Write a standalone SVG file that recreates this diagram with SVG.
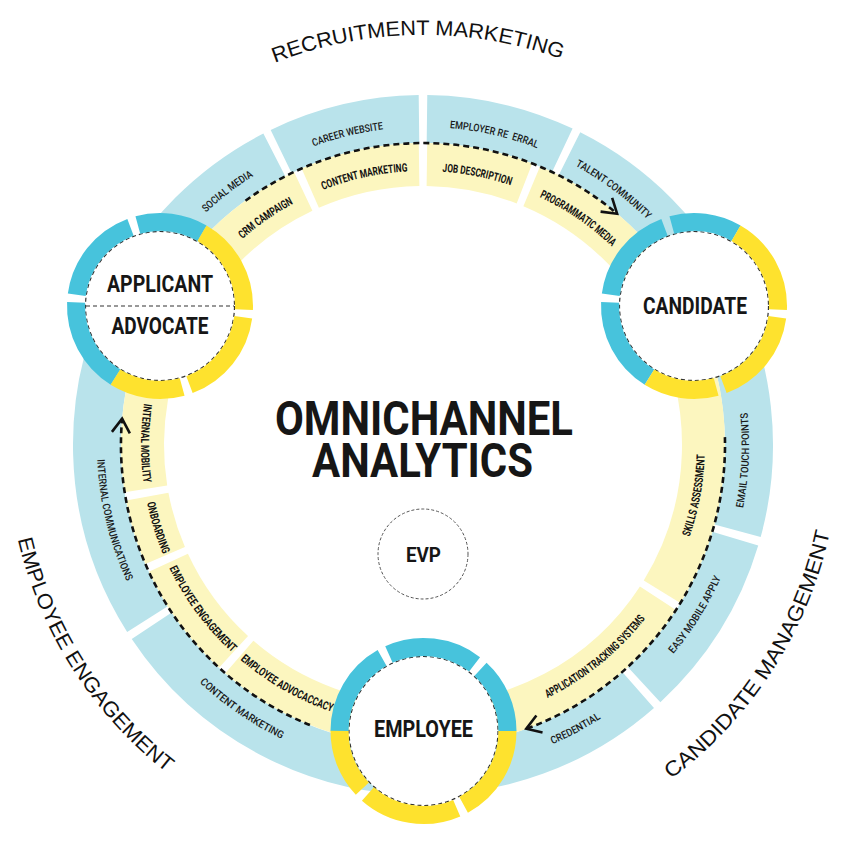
<svg xmlns="http://www.w3.org/2000/svg" width="843" height="845" viewBox="0 0 843 845">
<style>
.bb{fill:none;stroke:#B9E3EB;stroke-width:48}
.yb{fill:none;stroke:#FCF6BF;stroke-width:43}
.rb{fill:none;stroke:#47C3DC;stroke-width:18}
.ry{fill:none;stroke:#FEE22E;stroke-width:18}
.lb{font-family:Roboto,'Liberation Sans',sans-serif;font-weight:500;font-size:10.5px;fill:#1a1a1a}
.ly{font-family:Roboto,'Liberation Sans',sans-serif;font-weight:700;font-size:11.5px;fill:#111}
.outer{font-family:'Liberation Sans',Arial,sans-serif;font-size:21px;fill:#111}
.big{font-family:Roboto,'Liberation Sans',sans-serif;font-weight:700;fill:#161616;text-anchor:middle}
.flow{fill:none;stroke:#111;stroke-width:2.6;stroke-dasharray:6 4}
.core{fill:#fff;stroke:#333;stroke-width:1.2;stroke-dasharray:4 3}
</style>
<defs>
  <!-- guide circles centred on (423,445); cw = clockwise from bottom, ccw = counter-clockwise from top -->
  <path id="cw318" d="M423,763 A318,318 0 1 1 423,127 A318,318 0 1 1 423,763"/>
  <path id="cw274" d="M423,719 A274,274 0 1 1 423,171 A274,274 0 1 1 423,719"/>
  <path id="cw410" d="M423,855 A410,410 0 1 1 423,35 A410,410 0 1 1 423,855"/>
  <path id="ccw325" d="M423,119 A326,326 0 1 0 423,771 A326,326 0 1 0 423,119"/>
  <path id="ccw281" d="M423,163 A282,282 0 1 0 423,727 A282,282 0 1 0 423,163"/>
  <path id="ccw416" d="M423,29 A416,416 0 1 0 423,861 A416,416 0 1 0 423,29"/>
  <marker id="chev" viewBox="-17 -12 20 24" refX="0" refY="0" markerWidth="20" markerHeight="24" markerUnits="userSpaceOnUse" orient="auto">
    <path d="M-14,-9 L0,0 L-14,9" fill="none" stroke="#111" stroke-width="2.6" stroke-dasharray="none" stroke-linejoin="miter"/>
  </marker>
</defs>

<rect width="843" height="845" fill="#fff"/>

<!-- outer section titles -->
<g id="section-titles">
  <text class="outer" text-anchor="middle"><textPath href="#cw410" startOffset="1282.7" textLength="293" lengthAdjust="spacingAndGlyphs">RECRUITMENT MARKETING</textPath></text>
  <text class="outer" text-anchor="middle"><textPath href="#ccw416" startOffset="889.4" textLength="282" lengthAdjust="spacingAndGlyphs">EMPLOYEE ENGAGEMENT</textPath></text>
  <text class="outer" text-anchor="middle"><textPath href="#ccw416" startOffset="1722.2" textLength="300" lengthAdjust="spacingAndGlyphs">CANDIDATE MANAGEMENT</textPath></text>
</g>

<!-- outer (blue) channel ring -->
<g id="channel-ring" transform="translate(423 445)">
  <g id="social-media"><circle r="326" class="bb" stroke-dasharray="204 3000" transform="rotate(-153)"/></g>
  <g id="career-website"><circle r="326" class="bb" stroke-dasharray="142.8 3000" transform="rotate(-115.8)"/></g>
  <g id="employer-referral"><circle r="326" class="bb" stroke-dasharray="140 3000" transform="rotate(-89.3)"/></g>
  <g id="talent-community"><circle r="326" class="bb" stroke-dasharray="212 3000" transform="rotate(-63.3)"/></g>
  <g id="email-touch-points"><circle r="326" class="bb" stroke-dasharray="246 3000" transform="rotate(-28)"/></g>
  <g id="easy-mobile-apply"><circle r="326" class="bb" stroke-dasharray="174.1 3000" transform="rotate(16.7)"/></g>
  <g id="credential"><circle r="326" class="bb" stroke-dasharray="240.7 3000" transform="rotate(48.7)"/></g>
  <g id="content-marketing-blue"><circle r="326" class="bb" stroke-dasharray="326 3000" transform="rotate(89)"/></g>
  <g id="internal-communications"><circle r="326" class="bb" stroke-dasharray="348.8 3000" transform="rotate(147.7)"/></g>
</g>

<!-- inner (yellow) touch-point ring -->
<g id="touch-ring" transform="translate(423 445)">
  <g id="crm-campaign"><circle r="280.5" class="yb" stroke-dasharray="184.6 3000" transform="rotate(-153)"/></g>
  <g id="content-marketing"><circle r="280.5" class="yb" stroke-dasharray="112.1 3000" transform="rotate(-113.7)"/></g>
  <g id="job-description"><circle r="280.5" class="yb" stroke-dasharray="99.9 3000" transform="rotate(-89.2)"/></g>
  <g id="programmatic-media"><circle r="280.5" class="yb" stroke-dasharray="201.7 3000" transform="rotate(-67.2)"/></g>
  <g id="skills-assessment"><circle r="280.5" class="yb" stroke-dasharray="291.3 3000" transform="rotate(-28)"/></g>
  <g id="application-tracking"><circle r="280.5" class="yb" stroke-dasharray="283.5 3000" transform="rotate(33.1)"/></g>
  <g id="employee-advocacy"><circle r="280.5" class="yb" stroke-dasharray="205.1 3000" transform="rotate(89)"/></g>
  <g id="employee-engagement"><circle r="280.5" class="yb" stroke-dasharray="111.1 3000" transform="rotate(132.5)"/></g>
  <g id="onboarding"><circle r="280.5" class="yb" stroke-dasharray="61.7 3000" transform="rotate(156.8)"/></g>
  <g id="internal-mobility"><circle r="280.5" class="yb" stroke-dasharray="186 3000" transform="rotate(171)"/></g>
</g>

<!-- ring labels -->
<g id="ring-labels">
  <text class="lb" text-anchor="middle"><textPath href="#cw318" startOffset="790" textLength="60" lengthAdjust="spacingAndGlyphs">SOCIAL MEDIA</textPath></text>
  <text class="lb" text-anchor="middle"><textPath href="#cw318" startOffset="923" textLength="72" lengthAdjust="spacingAndGlyphs">CAREER WEBSITE</textPath></text>
  <text class="lb" text-anchor="middle"><textPath href="#cw318" startOffset="1070.6" textLength="90" lengthAdjust="spacingAndGlyphs">EMPLOYER RE&#160; ERRAL</textPath></text>
  <text class="lb" text-anchor="middle"><textPath href="#cw318" startOffset="1202.7" textLength="90" lengthAdjust="spacingAndGlyphs">TALENT COMMUNITY</textPath></text>
  <text class="ly" text-anchor="middle"><textPath href="#cw274" startOffset="694.4" textLength="62" lengthAdjust="spacingAndGlyphs">CRM CAMPAIGN</textPath></text>
  <text class="ly" text-anchor="middle"><textPath href="#cw274" startOffset="801.5" textLength="87" lengthAdjust="spacingAndGlyphs">CONTENT MARKETING</textPath></text>
  <text class="ly" text-anchor="middle"><textPath href="#cw274" startOffset="914.8" textLength="70" lengthAdjust="spacingAndGlyphs">JOB DESCRIPTION</textPath></text>
  <text class="ly" text-anchor="middle"><textPath href="#cw274" startOffset="1024.8" textLength="88" lengthAdjust="spacingAndGlyphs">PROGRAMMATIC MEDIA</textPath></text>

  <text class="lb" text-anchor="middle"><textPath href="#ccw325" startOffset="589.5" textLength="126" lengthAdjust="spacingAndGlyphs">INTERNAL COMMUNICATIONS</textPath></text>
  <text class="lb" text-anchor="middle"><textPath href="#ccw325" startOffset="827.9" textLength="100" lengthAdjust="spacingAndGlyphs">CONTENT MARKETING</textPath></text>
  <text class="lb" text-anchor="middle"><textPath href="#ccw325" startOffset="1184.6" textLength="55" lengthAdjust="spacingAndGlyphs">CREDENTIAL</textPath></text>
  <text class="lb" text-anchor="middle"><textPath href="#ccw325" startOffset="1354.2" textLength="90" lengthAdjust="spacingAndGlyphs">EASY MOBILE APPLY</textPath></text>
  <text class="lb" text-anchor="middle"><textPath href="#ccw325" startOffset="1520.3" textLength="96" lengthAdjust="spacingAndGlyphs">EMAIL TOUCH POINTS</textPath></text>

  <text class="ly" text-anchor="middle"><textPath href="#ccw281" startOffset="441" textLength="80" lengthAdjust="spacingAndGlyphs">INTERNAL MOBILITY</textPath></text>
  <text class="ly" text-anchor="middle"><textPath href="#ccw281" startOffset="528.1" textLength="54" lengthAdjust="spacingAndGlyphs">ONBOARDING</textPath></text>
  <text class="ly" text-anchor="middle"><textPath href="#ccw281" startOffset="623.1" textLength="106" lengthAdjust="spacingAndGlyphs">EMPLOYEE ENGAGEMENT</textPath></text>
  <text class="ly" text-anchor="middle"><textPath href="#ccw281" startOffset="739.7" textLength="106" lengthAdjust="spacingAndGlyphs">EMPLOYEE ADVOCACCACY</textPath></text>
  <text class="ly" text-anchor="middle"><textPath href="#ccw281" startOffset="1077.9" textLength="127" lengthAdjust="spacingAndGlyphs">APPLICATION TRACKING SYSTEMS</textPath></text>
  <text class="ly" text-anchor="middle"><textPath href="#ccw281" startOffset="1276.7" textLength="84" lengthAdjust="spacingAndGlyphs">SKILLS ASSESSMENT</textPath></text>
</g>

<!-- journey connectors -->
<g id="connectors">
  <path class="flow" d="M245.5,200.7 A302,302 0 0 1 617.1,213.7" marker-end="url(#chev)"/>
  <path class="flow" d="M724.9,437.1 A302,302 0 0 1 526.3,728.8" marker-end="url(#chev)"/>
  <path class="flow" d="M309.9,725 A302,302 0 0 1 122.1,418.7" marker-end="url(#chev)"/>
</g>

<!-- stage nodes -->
<g id="applicant-advocate" transform="translate(160 306)">
  <circle r="74.5" class="core"/>
  <circle r="84" class="rb" stroke-dasharray="88.4 600" transform="rotate(122)"/>
  <circle r="84" class="rb" stroke-dasharray="90.3 600" transform="rotate(187.7)"/>
  <circle r="84" class="rb" stroke-dasharray="66.4 600" transform="rotate(254.7)"/>
  <circle r="84" class="ry" stroke-dasharray="91.3 600" transform="rotate(-60)"/>
  <circle r="84" class="ry" stroke-dasharray="90.3 600" transform="rotate(7.7)"/>
  <circle r="84" class="ry" stroke-dasharray="69.3 600" transform="rotate(74.7)"/>
  <line x1="-74" y1="0" x2="74" y2="0" stroke="#333" stroke-width="1.2" stroke-dasharray="4 3"/>
  <text class="big" x="0" y="-14" font-size="24" textLength="106" lengthAdjust="spacingAndGlyphs">APPLICANT</text>
  <text class="big" x="0" y="28" font-size="24" textLength="97" lengthAdjust="spacingAndGlyphs">ADVOCATE</text>
</g>

<g id="candidate" transform="translate(694 306)">
  <circle r="74.5" class="core"/>
  <circle r="84" class="rb" stroke-dasharray="88.4 600" transform="rotate(122)"/>
  <circle r="84" class="rb" stroke-dasharray="90.3 600" transform="rotate(187.7)"/>
  <circle r="84" class="rb" stroke-dasharray="66.4 600" transform="rotate(254.7)"/>
  <circle r="84" class="ry" stroke-dasharray="91.3 600" transform="rotate(-60)"/>
  <circle r="84" class="ry" stroke-dasharray="90.3 600" transform="rotate(7.7)"/>
  <circle r="84" class="ry" stroke-dasharray="69.3 600" transform="rotate(74.7)"/>
  <text class="big" x="1" y="8" font-size="24" textLength="104" lengthAdjust="spacingAndGlyphs">CANDIDATE</text>
</g>

<g id="employee" transform="translate(423.5 731)">
  <circle r="74.5" class="core"/>
  <circle r="84" class="rb" stroke-dasharray="88.4 600" transform="rotate(180)"/>
  <circle r="84" class="rb" stroke-dasharray="90.3 600" transform="rotate(245.7)"/>
  <circle r="84" class="rb" stroke-dasharray="69.3 600" transform="rotate(-47.3)"/>
  <circle r="84" class="ry" stroke-dasharray="89.9 600" transform="rotate(0)"/>
  <circle r="84" class="ry" stroke-dasharray="94.7 600" transform="rotate(66.7)"/>
  <circle r="84" class="ry" stroke-dasharray="63.5 600" transform="rotate(136.7)"/>
  <text class="big" x="0" y="6" font-size="24" textLength="99" lengthAdjust="spacingAndGlyphs">EMPLOYEE</text>
</g>

<!-- centre -->
<g id="title">
  <text class="big" x="424" y="435" font-size="49" textLength="298" lengthAdjust="spacingAndGlyphs">OMNICHANNEL</text>
  <text class="big" x="422.5" y="477" font-size="49" textLength="221" lengthAdjust="spacingAndGlyphs">ANALYTICS</text>
</g>
<g id="evp">
  <circle cx="423" cy="554" r="45" fill="none" stroke="#555" stroke-width="1" stroke-dasharray="3 2"/>
  <text class="big" x="423.5" y="562" font-size="21" textLength="35" lengthAdjust="spacingAndGlyphs">EVP</text>
</g>
</svg>
